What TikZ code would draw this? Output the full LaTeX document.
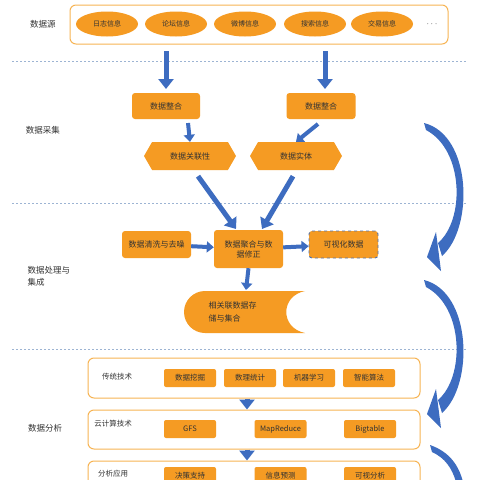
\documentclass[tikz,border=0pt]{standalone}
\usepackage{fontspec}
\setmainfont{Noto Sans CJK SC}
\usetikzlibrary{shapes.geometric,shapes.symbols,arrows.meta}
\definecolor{orfill}{HTML}{F59B23}
\definecolor{orline}{HTML}{F7B454}
\definecolor{arblue}{HTML}{3D6CC0}
\definecolor{sepblue}{HTML}{9DB4D3}
\definecolor{txt}{HTML}{333333}
\tikzset{
  every node/.style={text=txt},
  ell/.style={ellipse,fill=orfill,minimum width=62pt,minimum height=25pt,inner sep=0pt,font=\fontsize{7}{8}\selectfont},
  obox/.style={rectangle,rounded corners=3pt,fill=orfill,inner sep=0pt,font=\fontsize{8}{10}\selectfont},
  hexa/.style={signal,signal to=east and west,signal pointer angle=120,fill=orfill,minimum width=92pt,minimum height=28pt,inner sep=0pt,font=\fontsize{8}{10}\selectfont},
  panel/.style={draw=orline,line width=1pt,rounded corners=6pt,fill=white},
  sep/.style={sepblue,line width=0.9pt,dash pattern=on 2pt off 2pt},
  barrow/.style={arblue,line width=5pt,-{Triangle[width=15pt,length=10pt]}},
  sarrow/.style={arblue,line width=4pt,-{Triangle[width=11pt,length=7pt]}},
  lab/.style={font=\fontsize{8.5}{12}\selectfont,align=left},
  item/.style={rectangle,rounded corners=2pt,fill=orfill,minimum width=52pt,minimum height=18pt,inner sep=0pt,font=\fontsize{7.5}{9}\selectfont},
  cres/.style={fill=arblue},
}
\newcommand\mycrescent{%
  \fill[cres] (424,123) .. controls (472,135) and (474,228) .. (442,256)
    -- (438,243) .. controls (465,220) and (464,150) .. (426,130) -- cycle;
  \fill[cres] (436,232) -- (427,257) -- (441,271) -- cycle;}
\begin{document}
\begin{tikzpicture}[x=1pt,y=-1pt]
\useasboundingbox[fill=white] (0,0) rectangle (480,480);
% separators
\draw[sep] (12,61) -- (466,61);
\draw[sep] (12,203) -- (466,203);
\draw[sep] (12,349) -- (466,349);
% left labels
\node[lab] (l1) at (43,24) {数据源};
\node[lab] (l2) at (43,130) {数据采集};
\node[lab,anchor=west] (l3) at (24,276) {数据处理与\\集成};
\node[lab] (l4) at (45,428) {数据分析};
% sources panel
\node[panel,minimum width=378pt,minimum height=39pt] (src) at (259,24.5) {};
\node[ell] (s1) at (107,24) {日志信息};
\node[ell] (s2) at (176,24) {论坛信息};
\node[ell] (s3) at (245,24) {微博信息};
\node[ell] (s4) at (315,24) {搜索信息};
\node[ell] (s5) at (382,24) {交易信息};
\node[font=\fontsize{9}{10}\selectfont] (s6) at (432,24) {$\cdots$};
% collection
\node[obox,minimum width=68pt,minimum height=26pt] (z1) at (166,106) {数据整合};
\node[obox,minimum width=69pt,minimum height=26pt] (z2) at (321,106) {数据整合};
\coordinate (a1s) at (166,51);
\coordinate (a2s) at (325,51);
\draw[barrow] (a1s) -- (166,89);
\draw[barrow] (a2s) -- (325,89);
\node[hexa] (h1) at (190,156) {数据关联性};
\node[hexa] (h2) at (296,156) {数据实体};
\draw[sarrow] (188,123) -- (h1.north);
\draw[sarrow] (318,124) -- (h2.north);
% processing
\node[obox,minimum width=69pt,minimum height=27pt] (c1) at (156.5,244.5) {数据清洗与去噪};
\node[obox,minimum width=69pt,minimum height=38pt,align=center,text width=62pt] (c2) at (248.5,249) {数据聚合与数\\据修正};
\node[obox,minimum width=69pt,minimum height=27pt,draw=arblue!70!gray,dashed,line width=0.9pt] (c3) at (343.5,244.5) {可视化数据};
\coordinate (c2l) at (236,229);
\coordinate (c2r) at (262,229);
\draw[barrow] (h1.south) ++(8,6) -- (c2l);
\draw[barrow] (h2.south) ++(-3,6) -- (c2r);
\draw[sarrow] (c1) -- (c2);
\draw[sarrow] (c2) -- (c3);
% storage shape
\fill[orfill] (305,291) -- (205,291) arc[start angle=270,end angle=90,radius=21] -- (305,333) .. controls (280,328) and (280,296) .. (305,291) -- cycle;
\node[font=\fontsize{8}{13}\selectfont,align=left,anchor=west] (st) at (205,312) {相关联数据存\\储与集合};
\coordinate (stt) at (246,290);
\draw[sarrow] (c2.south) -- (stt);
% analysis panels
\node[panel,minimum width=332pt,minimum height=40pt] (p1) at (254,378) {};
\node[panel,minimum width=332pt,minimum height=39pt] (p2) at (254,429.5) {};
\node[panel,minimum width=332pt,minimum height=40pt] (p3) at (254,481) {};
\node[font=\fontsize{7.5}{9}\selectfont] (pl1) at (117,377) {传统技术};
\node[font=\fontsize{7.5}{9}\selectfont] (pl2) at (113,424) {云计算技术};
\node[font=\fontsize{7.5}{9}\selectfont] (pl3) at (113,474) {分析应用};
\node[item] (t1) at (190,378) {数据挖掘};
\node[item] (t2) at (250,378) {数理统计};
\node[item] (t3) at (309,378) {机器学习};
\node[item] (t4) at (369,378) {智能算法};
\node[item] (g1) at (190,429) {GFS};
\node[item] (g2) at (280.5,429) {MapReduce};
\node[item] (g3) at (370,429) {Bigtable};
\node[item] (y1) at (190,476) {决策支持};
\node[item] (y2) at (280.5,476) {信息预测};
\node[item] (y3) at (370,476) {可视分析};
\draw[barrow] (p1.south -| 247,0) -- (p2.north -| 247,0);
\draw[barrow] (p2.south -| 247,0) -- (p3.north -| 247,0);
% curved arrows (crescent block arrows)
\mycrescent
\begin{scope}[shift={(0,157)}]
\mycrescent
\end{scope}
\fill[cres] (430,445) .. controls (450,452) and (459,466) .. (463,482)
  -- (456,482) .. controls (452,468) and (445,458) .. (432,452) -- cycle;
\end{tikzpicture}
\end{document}
